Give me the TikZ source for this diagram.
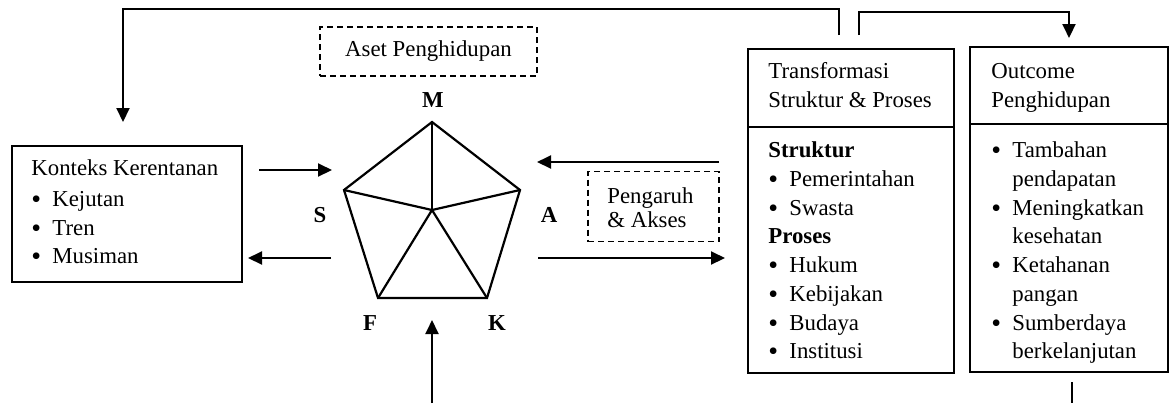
\documentclass[tikz,border=0pt]{standalone}
\usepackage{fontspec}
\setmainfont{Liberation Serif}
\usetikzlibrary{arrows.meta}
\newcommand{\fsz}{\fontsize{11.4pt}{14.3pt}\selectfont}
\newcommand{\bul}[1]{\hbox to 10.5pt{\raisebox{-1.1pt}{\fontsize{14pt}{14pt}\selectfont\textbullet}\hfil}#1}
\begin{document}
\begin{tikzpicture}[x=0.5pt,y=-0.5pt,
  box/.style={draw, line width=1pt, inner sep=0pt},
  dbox/.style={draw, dash pattern=on 3pt off 2pt, line width=0.8pt, inner sep=0pt},
  txt/.style={anchor=base west, inner sep=0pt, font=\fsz},
  lbl/.style={inner sep=0pt, font=\fsz\bfseries},
  arr/.style={line width=1pt, line join=miter, -{Triangle[length=7pt,width=6.5pt]}},
  ln/.style={line width=1pt},
  pent/.style={line width=1.1pt, line join=miter}]
\useasboundingbox (0,0) rectangle (1170,403);

% boxes
\node[box, minimum width=115pt, minimum height=68pt] (kk) at (127,214) {};
\node[dbox, font=\fsz, minimum width=108.5pt, minimum height=24.5pt] (aset) at (428.5,51.5) {Aset Penghidupan};
\node[dbox, minimum width=65.5pt, minimum height=35pt] (peng) at (653.5,206.5) {};
\node[box, minimum width=103pt, minimum height=162pt] (trans) at (851,211) {};
\node[box, minimum width=99pt, minimum height=162.5pt] (outc) at (1069,209.5) {};
\draw[ln] (trans.west |- 0,127) -- (trans.east |- 0,127);
\draw[ln] (outc.west |- 0,124) -- (outc.east |- 0,124);

% Konteks text
\node[txt] (k0) at (31,175) {Konteks Kerentanan};
\node[txt] (k1) at (31,206) {\bul{Kejutan}};
\node[txt] (k2) at (31,235) {\bul{Tren}};
\node[txt] (k3) at (31,263) {\bul{Musiman}};

% Pengaruh text
\node[txt] (g1) at (607,203) {Pengaruh};
\node[txt] (g2) at (607,227) {\& Akses};

% Transformasi text
\node[txt] (t0) at (768,78) {Transformasi};
\node[txt] (t00) at (768,107) {Struktur \& Proses};
\node[txt] (t1) at (768,157) {\textbf{Struktur}};
\node[txt] (t2) at (768,186) {\bul{Pemerintahan}};
\node[txt] (t3) at (768,215) {\bul{Swasta}};
\node[txt] (t4) at (768,243) {\textbf{Proses}};
\node[txt] (t5) at (768,272) {\bul{Hukum}};
\node[txt] (t6) at (768,301) {\bul{Kebijakan}};
\node[txt] (t7) at (768,330) {\bul{Budaya}};
\node[txt] (t8) at (768,358) {\bul{Institusi}};

% Outcome text
\node[txt] (o0) at (991,78) {Outcome};
\node[txt] (o00) at (991,107) {Penghidupan};
\node[txt] (o1) at (991,157) {\bul{Tambahan}};
\node[txt] (o2) at (1012,186) {pendapatan};
\node[txt] (o3) at (991,215) {\bul{Meningkatkan}};
\node[txt] (o4) at (1012,243) {kesehatan};
\node[txt] (o5) at (991,272) {\bul{Ketahanan}};
\node[txt] (o6) at (1012,301) {pangan};
\node[txt] (o7) at (991,330) {\bul{Sumberdaya}};
\node[txt] (o8) at (1012,358) {berkelanjutan};

% pentagon
\coordinate (pM) at (432,122);
\coordinate (pS) at (344,190);
\coordinate (pA) at (520,190);
\coordinate (pK) at (487,298);
\coordinate (pF) at (378,298);
\coordinate (pC) at (432,210);
\draw[pent] (pM) -- (pA) -- (pK) -- (pF) -- (pS) -- cycle;
\foreach \v in {pM,pA,pK,pF,pS} \draw[pent] (pC) -- (\v);

\node[lbl] (lM) at (433,100) {M};
\node[lbl] (lS) at (320,215) {S};
\node[lbl] (lA) at (549,215) {A};
\node[lbl] (lF) at (370,323) {F};
\node[lbl] (lK) at (497,323) {K};

% arrows
\coordinate (a1s) at (259,170); \coordinate (a1e) at (332,170);
\draw[arr] (a1s) -- (a1e);
\coordinate (a2s) at (331,258); \coordinate (a2e) at (248,258);
\draw[arr] (a2s) -- (a2e);
\coordinate (a3s) at (719,162); \coordinate (a3e) at (537,162);
\draw[arr] (a3s) -- (a3e);
\coordinate (a4s) at (538,258); \coordinate (a4e) at (725,258);
\draw[arr] (a4s) -- (a4e);
\coordinate (a5s) at (432,403); \coordinate (a5e) at (432,320);
\draw[arr] (a5s) -- (a5e);

% feedback loops
\coordinate (l1s) at (839,35); \coordinate (l1e) at (123,122);
\draw[arr] (l1s) -- (l1s |- 0,9) -- (l1e |- 0,9) -- (l1e);
\coordinate (l2s) at (859,35); \coordinate (l2e) at (1069,38);
\draw[arr] (l2s) -- (l2s |- 0,12) -- (l2e |- 0,12) -- (l2e);
\coordinate (l3s) at (1072,382); \coordinate (l3e) at (1072,403);
\draw[ln] (l3s) -- (l3e);
\end{tikzpicture}
\end{document}
